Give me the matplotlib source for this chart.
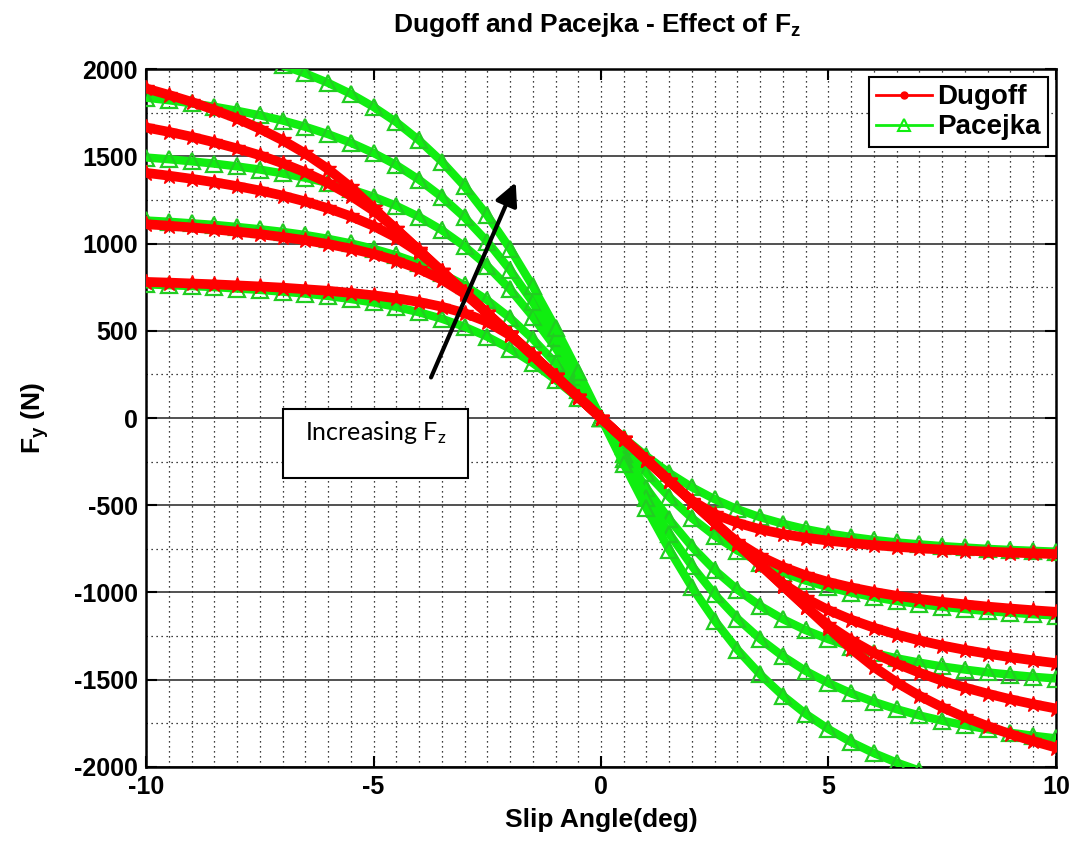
import numpy as np
import matplotlib
matplotlib.use('Agg')
import matplotlib.pyplot as plt
from matplotlib.lines import Line2D
from matplotlib.patches import Rectangle

# Slip angles (deg) for the positive half; curves are antisymmetric about the origin
slip = [0, 0.5, 1, 1.5, 2, 2.5, 3, 3.5, 4, 4.5, 5, 5.5, 6, 6.5, 7, 7.5, 8, 8.5, 9, 9.5, 10]

# Dugoff lateral force magnitude (N), one list per normal load, low -> high
dugoff_1 = [0, 120, 240, 360, 474, 551, 601, 638, 665, 686, 703, 717, 729, 738, 747, 754, 760, 766, 771, 776, 780]
dugoff_2 = [0, 120, 240, 360, 480, 600, 712, 793, 854, 902, 940, 971, 997, 1019, 1037, 1054, 1068, 1081, 1092, 1102, 1111]
dugoff_3 = [0, 120, 240, 360, 480, 600, 721, 841, 949, 1034, 1101, 1156, 1202, 1241, 1275, 1304, 1329, 1351, 1371, 1389, 1405]
dugoff_4 = [0, 120, 240, 360, 480, 600, 721, 841, 962, 1082, 1188, 1274, 1347, 1408, 1460, 1506, 1545, 1580, 1612, 1640, 1665]
dugoff_5 = [0, 120, 240, 360, 480, 600, 721, 841, 962, 1082, 1203, 1323, 1427, 1516, 1592, 1658, 1716, 1766, 1812, 1852, 1889]

# Pacejka lateral force magnitude (N)
pacejka_1 = [0, 113, 219, 315, 397, 466, 523, 569, 606, 637, 662, 682, 699, 713, 724, 734, 742, 750, 756, 761, 766]
pacejka_2 = [0, 162, 315, 453, 574, 675, 760, 829, 886, 932, 970, 1001, 1027, 1049, 1067, 1082, 1095, 1107, 1116, 1125, 1132]
pacejka_3 = [0, 206, 403, 581, 738, 872, 984, 1077, 1153, 1216, 1268, 1311, 1347, 1377, 1402, 1424, 1442, 1458, 1471, 1483, 1493]
pacejka_4 = [0, 233, 456, 663, 849, 1011, 1150, 1267, 1366, 1450, 1519, 1578, 1627, 1669, 1705, 1735, 1761, 1784, 1804, 1821, 1836]
pacejka_5 = [0, 264, 518, 755, 971, 1161, 1328, 1470, 1592, 1696, 1783, 1858, 1921, 1975, 2021]

dugoff = [dugoff_1, dugoff_2, dugoff_3, dugoff_4, dugoff_5]
pacejka = [pacejka_1, pacejka_2, pacejka_3, pacejka_4, pacejka_5]

RED = '#ff0000'
GREEN = '#10ee10'

plt.rcParams['font.family'] = ['Liberation Sans', 'DejaVu Sans']
plt.rcParams['font.weight'] = 'bold'
plt.rcParams['mathtext.fontset'] = 'custom'
plt.rcParams['mathtext.rm'] = 'Lato:regular'
plt.rcParams['mathtext.bf'] = 'Liberation Sans:bold'


def full_curve(mag):
    # mirror the positive-slip half: F(-a) = -F(a), positive slip gives negative force
    a = np.array(slip[:len(mag)], dtype=float)
    f = np.array(mag, dtype=float)
    x = np.concatenate([-a[::-1], a[1:]])
    y = np.concatenate([f[::-1], -f[1:]])
    return x, y


fig = plt.figure(figsize=(10.76, 8.43), dpi=100)
ax = fig.add_axes([0.1357, 0.0902, 0.8457, 0.8279])

for mag in pacejka:
    x, y = full_curve(mag)
    ax.plot(x, y, '-', color=GREEN, lw=6, solid_capstyle='butt', zorder=3)
    ax.plot(x, y, '^', color=GREEN, mfc='none', mec='#22cc22', ms=11, mew=1.6, zorder=3)

for mag in dugoff:
    x, y = full_curve(mag)
    ax.plot(x, y, '-', color=RED, lw=7, solid_capstyle='butt', zorder=4)
    ax.plot(x, y, '*', color=RED, ms=12, zorder=4)

ax.set_xlim(-10, 10)
ax.set_ylim(-2000, 2000)
ax.set_xticks(np.arange(-10, 10.1, 5))
ax.set_xticks(np.arange(-10, 10.1, 0.5), minor=True)
ax.set_yticks(np.arange(-2000, 2001, 500))
ax.set_yticks(np.arange(-2000, 2001, 250), minor=True)
ax.set_xticklabels(['-10', '-5', '0', '5', '10'])
ax.set_yticklabels([str(v) for v in range(-2000, 2001, 500)])

ax.set_axisbelow(True)
ax.grid(True, which='minor', color='k', ls=(0, (1, 3)), lw=0.9)
ax.grid(True, which='major', axis='x', color='k', ls=(0, (1, 3)), lw=0.9)
ax.grid(True, which='major', axis='y', color='#222222', ls='-', lw=1.1)
ax.tick_params(which='minor', length=0)
ax.tick_params(which='major', direction='in', length=8, width=1.5,
               top=True, right=True, labelsize=18, pad=6)
for s in ax.spines.values():
    s.set_linewidth(1.8)

ax.set_xlabel('Slip Angle(deg)', fontsize=19, fontweight='bold', labelpad=6)
ax.set_ylabel(r'F$_\mathbf{y}$ (N)', fontsize=19, fontweight='bold', labelpad=16)
fig.text(0.555, 0.970, r'Dugoff and Pacejka - Effect of $\mathbf{F_z}$', ha='center', va='center',
         fontsize=19, fontweight='bold')

# annotation box and arrow
ax.add_patch(Rectangle((-7.0, -344), 4.08, 396, facecolor='white', edgecolor='k', lw=1.5, zorder=6))
ax.text(-4.95, -85, r'Increasing $\mathrm{F_z}$', ha='center', va='center', fontsize=18,
        fontweight='normal', family='Lato', zorder=7)
ax.annotate('', xy=(-1.85, 1365), xytext=(-3.76, 218),
            arrowprops=dict(arrowstyle='-|>', lw=3, color='k', mutation_scale=34), zorder=7)

handles = [Line2D([0], [0], color=RED, lw=2, marker='o', ms=5, label='Dugoff'),
           Line2D([0], [0], color=GREEN, lw=2, marker='^', mfc='none', mec=GREEN, ms=8, mew=1.5,
                  label='Pacejka')]
leg = ax.legend(handles=handles, loc='upper right', fontsize=20, frameon=True, fancybox=False,
                edgecolor='k', framealpha=1, borderaxespad=0.3, handlelength=2.0,
                handletextpad=0.2, borderpad=0.25, labelspacing=0.15)
leg.get_frame().set_linewidth(1.5)
leg.set_zorder(10)

fig.savefig('out.png', dpi=100)
